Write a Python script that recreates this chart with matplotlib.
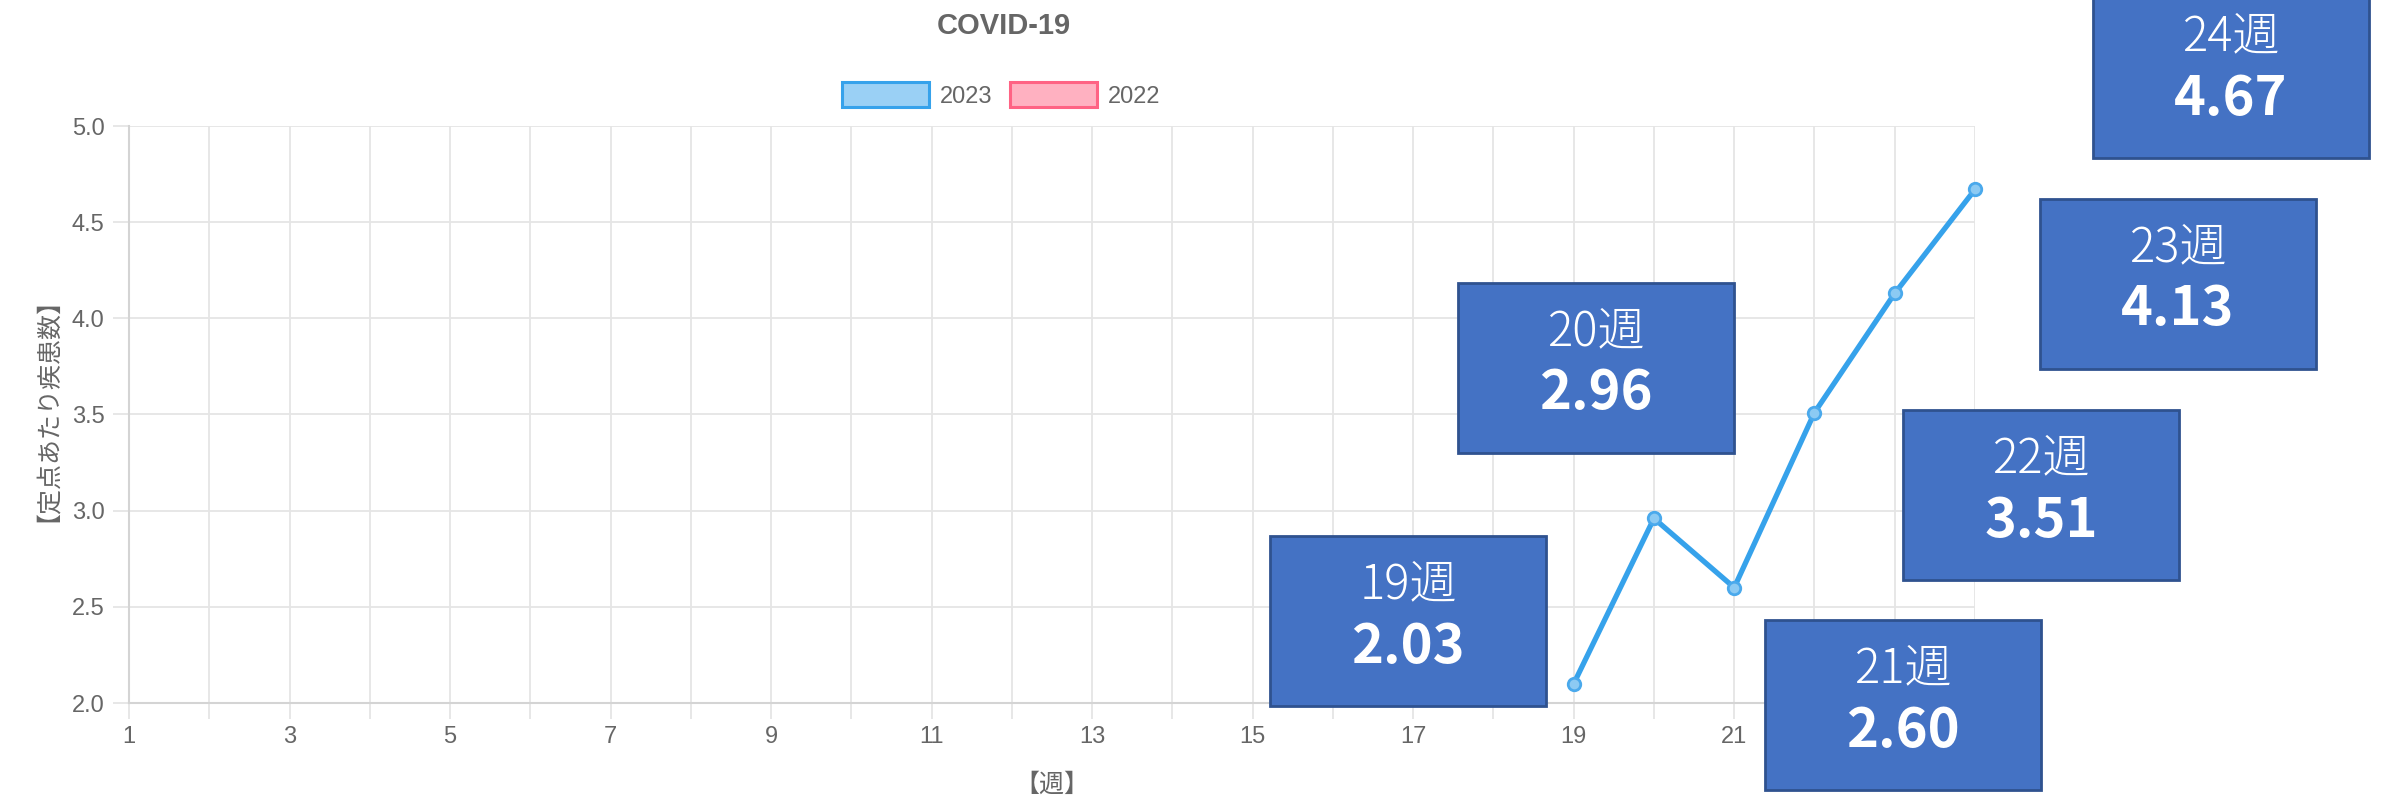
import numpy as np
import matplotlib
matplotlib.use('Agg')
from matplotlib import pyplot as plt
from matplotlib.patches import Rectangle, Patch

# data
weeks_2023 = [19, 20, 21, 22, 23, 24]
rate_2023 = [2.10, 2.96, 2.60, 3.51, 4.13, 4.67]
rate_2022 = []  # in the legend, nothing drawn

# values written in the callout boxes
box_weeks = [19, 20, 21, 22, 23, 24]
box_values = [2.03, 2.96, 2.60, 3.51, 4.13, 4.67]

week_ticks = list(range(1, 25))
shown_week_labels = [1, 3, 5, 7, 9, 11, 13, 15, 17, 19, 21]  # 23 sits under a box
y_ticks = [2.0, 2.5, 3.0, 3.5, 4.0, 4.5, 5.0]

title = 'COVID-19'
x_label = '【週】'
y_label = '【定点あたり疾患数】'

plt.rcParams['font.family'] = ['Liberation Sans Narrow', 'Liberation Sans', 'Noto Sans CJK JP', 'DejaVu Sans']

W, H = 2382, 798
GREY = '#666666'
GRID = '#e5e5e5'
JP = ['Noto Sans CJK JP', 'DejaVu Sans']

fig = plt.figure(figsize=(W / 100, H / 100), dpi=100)
ax = fig.add_axes([129 / W, 1 - 703 / H, (1975 - 129) / W, (703 - 126) / H])

ax.plot(weeks_2023, rate_2023, color='#36A2EB', lw=3.8, marker='o', ms=9,
        mfc='#8ccaf3', mec='#4aa9ec', mew=2, zorder=3, clip_on=False)

ax.set_xlim(1, 24)
ax.set_ylim(2, 5)
ax.set_xticks(week_ticks)
ax.set_xticklabels([str(w) if w in shown_week_labels else '' for w in week_ticks])
ax.set_yticks(y_ticks)
ax.set_yticklabels([f'{v:.1f}' for v in y_ticks])

ax.grid(True, color=GRID, lw=1.3)
ax.set_axisbelow(True)
ax.tick_params(color=GRID, width=1.3, length=11.5, labelcolor=GREY, labelsize=17)
ax.tick_params(axis='x', pad=5)
ax.tick_params(axis='y', pad=6)
for side in ['top', 'right']:
    ax.spines[side].set_visible(False)
for side in ['left', 'bottom']:
    ax.spines[side].set_color('#d4d4d4')
    ax.spines[side].set_linewidth(1.5)

ax.set_xlabel(x_label, fontsize=18, color=GREY, family=JP, va='center')
ax.xaxis.set_label_coords(0.5, -0.142)
ax.set_ylabel(y_label, fontsize=18, color=GREY, family=JP, va='center')
ax.yaxis.set_label_coords(-0.051, 0.53)

fig.text(1004 / W, 1 - 26 / H, title, ha='center', va='center',
         fontsize=21, weight='bold', color=GREY)

handles = [Patch(fc='#9AD0F5', ec='#36A2EB', lw=2.2, label='2023'),
           Patch(fc='#FFB1C1', ec='#FF6384', lw=2.2, label='2022')]
fig.legend(handles=handles, loc='center', bbox_to_anchor=(1001 / W, 1 - 95 / H),
           ncol=2, frameon=False, fontsize=17, handlelength=3.7, handleheight=1.25,
           handletextpad=0.45, columnspacing=0.75, labelcolor=GREY)

# callout boxes (pixel layout: left, top)
BW, BH = 276, 170
box_pos = [(1270, 536), (1458, 283), (1765, 620), (1903, 410), (2040, 199), (2093, -12)]
for wk, val, (left, top) in zip(box_weeks, box_values, box_pos):
    rect = Rectangle((left / W, 1 - (top + BH) / H), BW / W, BH / H,
                     transform=fig.transFigure, fc='#4472C4', ec='#2F528F',
                     lw=2, zorder=10)
    fig.add_artist(rect)
    cx = (left + BW / 2) / W
    cy = top + BH / 2
    fig.text(cx, 1 - (cy - 35) / H, f'{wk}週', ha='center', va='center',
             fontsize=34, weight='light', color='white', family=JP, zorder=11)
    fig.text(cx, 1 - (cy + 26) / H, f'{val:.2f}', ha='center', va='center',
             fontsize=39, weight='bold', color='white', family=JP, zorder=11)

fig.savefig('out.png', dpi=100)
